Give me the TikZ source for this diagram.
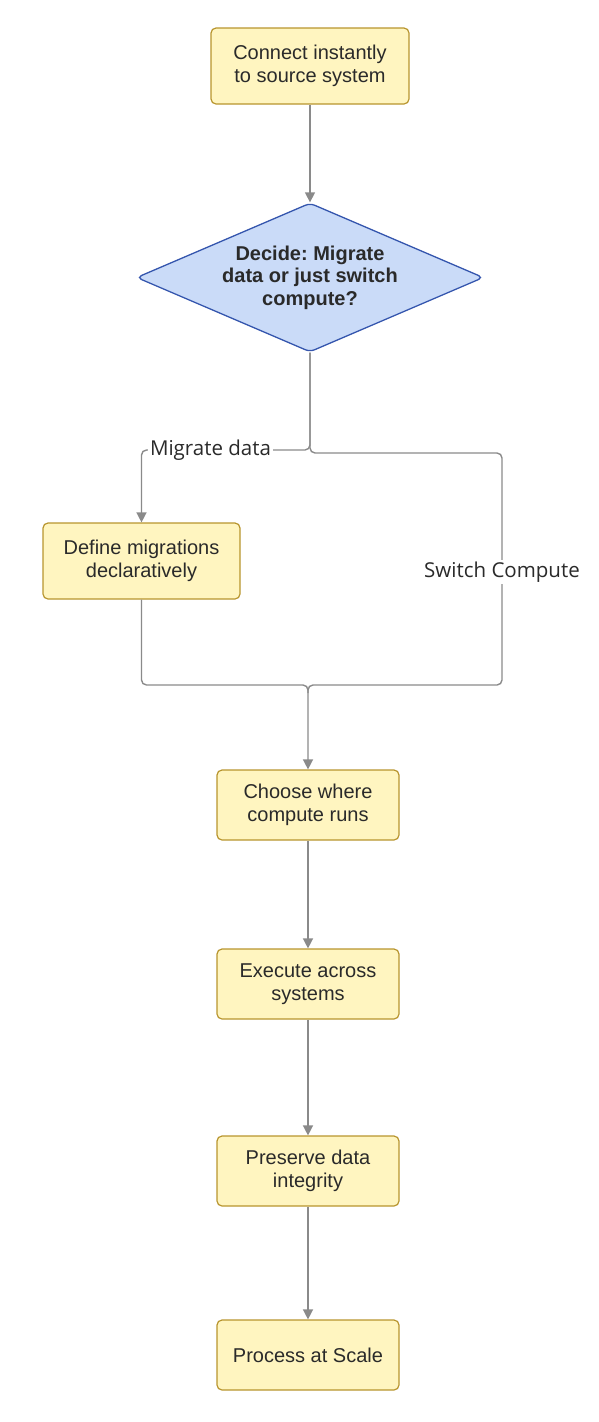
\documentclass[tikz,border=0pt]{standalone}
\usepackage{fontspec}
\setmainfont{Liberation Sans}
\newfontfamily\labelfont{Open Sans}
\usetikzlibrary{shapes.geometric,arrows.meta}
\frenchspacing
\definecolor{boxfill}{HTML}{FFF5C0}
\definecolor{boxdraw}{HTML}{B8952E}
\definecolor{dfill}{HTML}{CADBF8}
\definecolor{ddraw}{HTML}{3556AE}
\definecolor{edge}{HTML}{8A8A8A}
\definecolor{txt}{HTML}{2A2A2A}
\tikzset{
  procbox/.style={draw=boxdraw, fill=boxfill, line width=1.2pt, rounded corners=5pt,
    minimum width=182pt, minimum height=70pt, align=center, text=txt,
    font=\fontsize{20}{23}\selectfont, inner sep=0pt},
  decision/.style={diamond, draw=ddraw, fill=dfill, line width=1.3pt, rounded corners=5pt,
    minimum width=347pt, minimum height=149pt, aspect=2.33, align=center, text=txt,
    font=\fontsize{20}{22.5}\selectfont\bfseries, inner sep=0pt},
  conn/.style={draw=edge, line width=1.4pt, rounded corners=5pt,
    -{Triangle[length=10pt,width=10pt]}},
  plain/.style={draw=edge, line width=1.4pt, rounded corners=5pt},
  elabel/.style={fill=white, text=txt, font=\labelfont\fontsize{20.5}{22}\selectfont, inner sep=2pt}
}
\begin{document}
\begin{tikzpicture}[x=1pt,y=-1pt]
\useasboundingbox (0,0) rectangle (598,1422);
\node[procbox, minimum width=198pt, minimum height=76pt] (connect) at (310,66) {Connect instantly\\to source system};
\node[decision] (decide) at (310,277.5) {Decide: Migrate\\data or just switch\\compute?};
\node[procbox, minimum width=197pt, minimum height=76pt] (define) at (141.5,561) {Define migrations\\declaratively};
\node[procbox] (choose) at (308,805) {Choose where\\compute runs};
\node[procbox] (execute) at (308,984) {Execute across\\systems};
\node[procbox] (preserve) at (308,1171) {Preserve data\\integrity};
\node[procbox] (process) at (308,1355) {Process at Scale};
\coordinate (lm) at (310,450);
\coordinate (ll) at (141.5,450);
\coordinate (rm) at (310,453);
\coordinate (rr) at (502,453);
\coordinate (rb) at (502,685);
\coordinate (jb) at (308,685);
\coordinate (lb) at (141.5,685);

\draw[conn] (connect.south) -- (decide.north);
\draw[conn] (decide.south) -- (lm) -- (ll) -- (define.north);
\draw[conn] (decide.south) -- (rm) -- (rr) -- (rb) -- (jb) -- (choose.north);
\draw[plain] (define.south) -- (lb) -- (jb) -- ++(0,8);
\draw[conn] (choose.south) -- (execute.north);
\draw[conn] (execute.south) -- (preserve.north);
\draw[conn] (preserve.south) -- (process.north);

\node[elabel] (mlabel) at (210.5,450) {Migrate data};
\node[elabel] (slabel) at (502,572) {Switch Compute};
\end{tikzpicture}
\end{document}
